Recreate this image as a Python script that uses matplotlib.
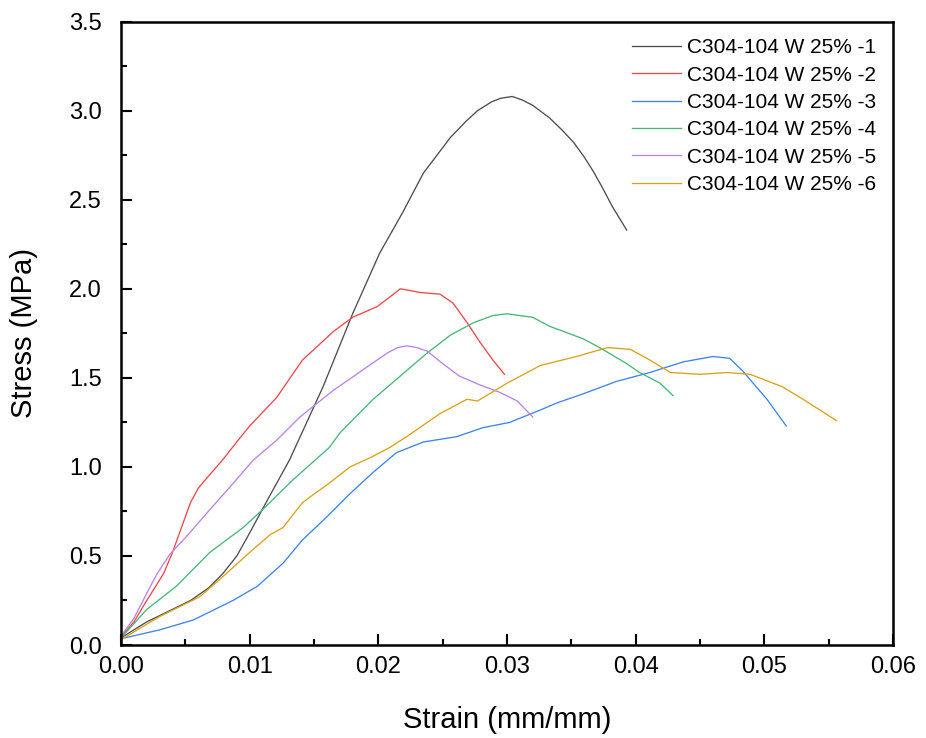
import numpy as np
import matplotlib
matplotlib.use('Agg')
import matplotlib.pyplot as plt
from matplotlib.ticker import MultipleLocator

plt.rcParams['font.family'] = ['Liberation Sans', 'DejaVu Sans']

labels = ['C304-104 W 25% -1', 'C304-104 W 25% -2', 'C304-104 W 25% -3',
          'C304-104 W 25% -4', 'C304-104 W 25% -5', 'C304-104 W 25% -6']
colors = ['#4d4d4d', '#f04848', '#3d85e8', '#45b878', '#b884e6', '#d9a21b']

# strain / stress
x1 = [0.0, 0.002, 0.004, 0.0054, 0.0068, 0.0079, 0.0090, 0.0100, 0.0115, 0.0131, 0.0157,
      0.0180, 0.0201, 0.0219, 0.0235, 0.0256, 0.0268, 0.0277, 0.0288, 0.0295, 0.0304,
      0.0312, 0.0320, 0.0333, 0.0343, 0.0352, 0.0360, 0.0367, 0.0374, 0.0382, 0.0393]
y1 = [0.04, 0.13, 0.20, 0.25, 0.32, 0.40, 0.50, 0.63, 0.83, 1.04, 1.45,
      1.86, 2.20, 2.43, 2.65, 2.85, 2.94, 3.00, 3.05, 3.07, 3.08,
      3.06, 3.03, 2.96, 2.89, 2.82, 2.74, 2.66, 2.57, 2.46, 2.33]

x2 = [0.0, 0.0010, 0.0020, 0.0033, 0.0040, 0.0047, 0.0054, 0.0060, 0.0067, 0.0079, 0.0091,
      0.0100, 0.0121, 0.0141, 0.0165, 0.0180, 0.0199, 0.0210, 0.0217, 0.0225, 0.0232,
      0.0248, 0.0258, 0.0269, 0.0279, 0.0289, 0.0298]
y2 = [0.045, 0.13, 0.25, 0.40, 0.52, 0.66, 0.80, 0.88, 0.94, 1.04, 1.15,
      1.23, 1.39, 1.60, 1.76, 1.84, 1.90, 1.96, 2.00, 1.99, 1.98,
      1.97, 1.92, 1.81, 1.70, 1.60, 1.52]

x3 = [0.0, 0.0030, 0.0056, 0.0087, 0.0106, 0.0126, 0.0141, 0.0160, 0.0178, 0.0196, 0.0214,
      0.0235, 0.0261, 0.0281, 0.0302, 0.0326, 0.0339, 0.0359, 0.0385, 0.0411, 0.0437,
      0.0460, 0.0473, 0.0483, 0.0502, 0.0517]
y3 = [0.035, 0.085, 0.14, 0.25, 0.33, 0.46, 0.59, 0.72, 0.85, 0.97, 1.08,
      1.14, 1.17, 1.22, 1.25, 1.32, 1.36, 1.41, 1.48, 1.53, 1.59,
      1.62, 1.61, 1.54, 1.38, 1.23]

x4 = [0.0, 0.0020, 0.0043, 0.0069, 0.0095, 0.0110, 0.0134, 0.0162, 0.0170, 0.0196, 0.0217,
      0.0238, 0.0256, 0.0274, 0.0289, 0.0300, 0.0320, 0.0333, 0.0359, 0.0372, 0.0393,
      0.0403, 0.0419, 0.0429]
y4 = [0.04, 0.20, 0.33, 0.52, 0.66, 0.76, 0.93, 1.11, 1.19, 1.38, 1.51,
      1.64, 1.74, 1.81, 1.85, 1.86, 1.84, 1.79, 1.72, 1.67, 1.58,
      1.53, 1.47, 1.40]

x5 = [0.0, 0.0010, 0.0020, 0.0028, 0.0038, 0.0051, 0.0069, 0.0085, 0.0103, 0.0121, 0.0139,
      0.0165, 0.0191, 0.0207, 0.0215, 0.0222, 0.0230, 0.0238, 0.0250, 0.0263, 0.0279,
      0.0294, 0.0308, 0.0320]
y5 = [0.05, 0.15, 0.29, 0.40, 0.51, 0.61, 0.76, 0.89, 1.04, 1.15, 1.28,
      1.43, 1.56, 1.64, 1.67, 1.68, 1.67, 1.65, 1.58, 1.51, 1.46,
      1.42, 1.37, 1.28]

x6 = [0.0, 0.0030, 0.0061, 0.0077, 0.0100, 0.0116, 0.0126, 0.0141, 0.0162, 0.0178, 0.0196,
      0.0209, 0.0222, 0.0248, 0.0269, 0.0277, 0.0300, 0.0326, 0.0354, 0.0378, 0.0396,
      0.0411, 0.0427, 0.0450, 0.0471, 0.0489, 0.0514, 0.0530, 0.0556]
y6 = [0.03, 0.16, 0.27, 0.37, 0.52, 0.62, 0.66, 0.80, 0.91, 1.00, 1.06,
      1.11, 1.17, 1.30, 1.38, 1.37, 1.47, 1.57, 1.62, 1.67, 1.66,
      1.60, 1.53, 1.52, 1.53, 1.52, 1.45, 1.38, 1.26]

xs = [x1, x2, x3, x4, x5, x6]
ys = [y1, y2, y3, y4, y5, y6]

fig = plt.figure(figsize=(9.26, 7.38), dpi=100)
ax = fig.add_axes([0.1307, 0.126, 0.8337, 0.8446])

for x, y, c, lab in zip(xs, ys, colors, labels):
    ax.plot(x, y, color=c, lw=0.95, label=lab)

ax.set_xlim(0, 0.06)
ax.set_ylim(0, 3.5)
ax.xaxis.set_major_locator(MultipleLocator(0.01))
ax.xaxis.set_minor_locator(MultipleLocator(0.005))
ax.yaxis.set_major_locator(MultipleLocator(0.5))
ax.yaxis.set_minor_locator(MultipleLocator(0.25))
ax.xaxis.set_major_formatter(matplotlib.ticker.FormatStrFormatter('%.2f'))
ax.yaxis.set_major_formatter(matplotlib.ticker.FormatStrFormatter('%.1f'))

for s in ax.spines.values():
    s.set_linewidth(1.8)
ax.tick_params(which='major', direction='in', length=8, width=1.5, labelsize=17)
ax.tick_params(which='minor', direction='in', length=4, width=1.5)
ax.tick_params(axis='x', which='major', pad=8)
ax.tick_params(axis='y', which='major', pad=14)

ax.set_xlabel('Strain (mm/mm)', fontsize=21, labelpad=20)
ax.set_ylabel('Stress (MPa)', fontsize=21)
ax.yaxis.set_label_coords(-0.107, 0.5)

ax.legend(loc='upper right', frameon=False, fontsize=15, handlelength=2.35,
          handletextpad=0.3, labelspacing=0.4, borderaxespad=0.4)

fig.savefig('out.png', dpi=100)
